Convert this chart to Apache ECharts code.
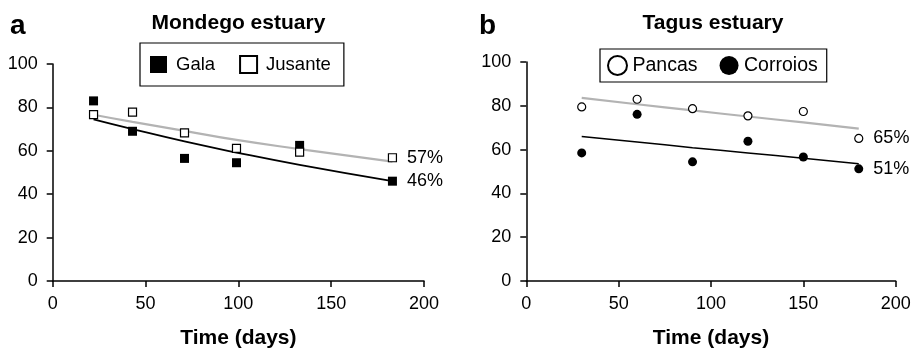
<!DOCTYPE html>
<html>
<head>
<meta charset="utf-8">
<script src="https://cdn.jsdelivr.net/npm/echarts@6/dist/echarts.min.js"></script>
<style>
html,body{margin:0;padding:0;background:#fff;}
#c{width:914px;height:354px;}
</style>
</head>
<body>
<div id="c"></div>
<script>
// ---- Data ----
const mondegoDays = [22, 43, 71, 99, 133, 183];
const galaValues = [83, 69, 56.5, 54.5, 62.5, 46];
const jusanteValues = [76.7, 77.8, 68.3, 61.1, 59.4, 56.8];
const galaTrend = [74.5, 70.0, 64.3, 59.2, 53.5, 46.0];
const jusanteTrend = [76.6, 73.3, 69.2, 65.0, 60.8, 55.0];

const tagusDays = [30, 60, 90, 120, 150, 180];
const pancasValues = [79.5, 83, 78.7, 75.4, 77.4, 65.1];
const corroiosValues = [58.5, 76.1, 54.4, 63.8, 56.6, 51.2];
const pancasTrend = [83.6, 80.7, 77.9, 75.1, 72.4, 69.6];
const corroiosTrend = [66.0, 63.5, 60.9, 58.5, 56.0, 53.5];

const endLabels = { Gala: '46%', Jusante: '57%', Pancas: '65%', Corroios: '51%' };
const panelTitles = ['Mondego estuary', 'Tagus estuary'];
const panelLetters = ['a', 'b'];
const xAxisName = 'Time (days)';

// ---- Build ----
const FONT = '"Liberation Sans", Arial, sans-serif';
const GRAY = '#b3b3b3';

function pts(xs, ys, labelText) {
  return xs.map((x, i) => {
    const item = { value: [x, ys[i]] };
    if (labelText && i === xs.length - 1) {
      item.label = {
        show: true, position: 'right', distance: 10, formatter: labelText,
        color: '#000', fontSize: 18, fontFamily: FONT
      };
    }
    return item;
  });
}
function line(xs, ys) { return xs.map((x, i) => [x, ys[i]]); }

const grids = [
  { left: 52.7, top: 64, width: 371.3, height: 225.7 },
  { left: 526.3, top: 62, width: 369.4, height: 227.3 }
];

function xAx(i) {
  return {
    type: 'value', gridIndex: i, min: 0, max: 200, interval: 50,
    name: xAxisName, nameLocation: 'middle', nameGap: 47,
    nameTextStyle: { fontSize: 21, fontWeight: 'bold', color: '#000', fontFamily: FONT },
    axisLine: { show: true, onZero: false, lineStyle: { color: '#000', width: 1.5 } },
    axisTick: { show: true, inside: false, length: 6, lineStyle: { color: '#000', width: 1.5 } },
    axisLabel: { margin: 14, fontSize: 18, color: '#000', fontFamily: FONT },
    splitLine: { show: false }
  };
}
function yAx(i) {
  return {
    type: 'value', gridIndex: i, min: 0, max: 100, interval: 20,
    axisLine: { show: true, onZero: false, lineStyle: { color: '#000', width: 1.5 } },
    axisTick: { show: true, inside: false, length: 6, lineStyle: { color: '#000', width: 1.5 } },
    axisLabel: { margin: 15, fontSize: 18, color: '#000', fontFamily: FONT },
    splitLine: { show: false }
  };
}

const option = {
  animation: false,
  backgroundColor: '#fff',
  textStyle: { fontFamily: FONT },
  grid: grids,
  xAxis: [xAx(0), xAx(1)],
  yAxis: [yAx(0), yAx(1)],
  legend: [
    {
      left: 140, top: 43,
      padding: [12, 13, 12, 10],
      borderColor: '#000', borderWidth: 1.2,
      itemWidth: 17, itemHeight: 17, itemGap: 24,
      textStyle: { fontSize: 18.5, color: '#000', fontFamily: FONT, padding: [0, 0, 0, 4] },
      data: [
        { name: 'Gala', icon: 'rect' },
        { name: 'Jusante', icon: 'rect' }
      ]
    },
    {
      left: 600, top: 49,
      padding: [6, 9, 6, 7],
      borderColor: '#000', borderWidth: 1.2,
      itemWidth: 20, itemHeight: 19, itemGap: 22,
      textStyle: { fontSize: 19.5, color: '#000', fontFamily: FONT },
      data: [
        { name: 'Pancas', icon: 'circle' },
        { name: 'Corroios', icon: 'circle' }
      ]
    }
  ],
  graphic: [
    { type: 'text', x: 10, y: 12, style: { text: panelLetters[0], font: 'bold 28px ' + FONT, fill: '#000' } },
    { type: 'text', x: 479, y: 12, style: { text: panelLetters[1], font: 'bold 28px ' + FONT, fill: '#000' } },
    { type: 'text', x: 238.4, y: 13, style: { text: panelTitles[0], font: 'bold 21px ' + FONT, fill: '#000', textAlign: 'center' } },
    { type: 'text', x: 713, y: 13, style: { text: panelTitles[1], font: 'bold 21px ' + FONT, fill: '#000', textAlign: 'center' } }
  ],
  series: [
    // trend lines
    { type: 'line', xAxisIndex: 0, yAxisIndex: 0, data: line(mondegoDays, jusanteTrend), showSymbol: false, smooth: true, lineStyle: { color: GRAY, width: 2.2 }, z: 2, silent: true },
    { type: 'line', xAxisIndex: 0, yAxisIndex: 0, data: line(mondegoDays, galaTrend), showSymbol: false, smooth: true, lineStyle: { color: '#000', width: 1.8 }, z: 2, silent: true },
    { type: 'line', xAxisIndex: 1, yAxisIndex: 1, data: line(tagusDays, pancasTrend), showSymbol: false, smooth: true, lineStyle: { color: GRAY, width: 2.2 }, z: 2, silent: true },
    { type: 'line', xAxisIndex: 1, yAxisIndex: 1, data: line(tagusDays, corroiosTrend), showSymbol: false, smooth: true, lineStyle: { color: '#000', width: 1.5 }, z: 2, silent: true },
    // points
    { name: 'Gala', type: 'scatter', xAxisIndex: 0, yAxisIndex: 0, symbol: 'rect', symbolSize: 9,
      itemStyle: { color: '#000', opacity: 1 }, data: pts(mondegoDays, galaValues, endLabels.Gala), z: 5 },
    { name: 'Jusante', type: 'scatter', xAxisIndex: 0, yAxisIndex: 0, symbol: 'rect', symbolSize: 8,
      itemStyle: { color: '#fff', borderColor: '#000', borderWidth: 1.2, opacity: 1 }, data: pts(mondegoDays, jusanteValues, endLabels.Jusante), z: 5 },
    { name: 'Pancas', type: 'scatter', xAxisIndex: 1, yAxisIndex: 1, symbol: 'circle', symbolSize: 8,
      itemStyle: { color: '#fff', borderColor: '#000', borderWidth: 1.2, opacity: 1 }, data: pts(tagusDays, pancasValues, endLabels.Pancas), z: 5 },
    { name: 'Corroios', type: 'scatter', xAxisIndex: 1, yAxisIndex: 1, symbol: 'circle', symbolSize: 9,
      itemStyle: { color: '#000', opacity: 1 }, data: pts(tagusDays, corroiosValues, endLabels.Corroios), z: 5 }
  ]
};

const chart = echarts.init(document.getElementById('c'), null, { renderer: 'canvas' });
chart.setOption(option);
</script>
</body>
</html>
